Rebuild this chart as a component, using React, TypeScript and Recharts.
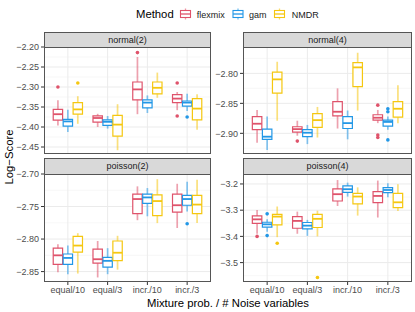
import React from 'react';
import {
  ComposedChart,
  XAxis,
  YAxis,
  CartesianGrid,
  ReferenceArea,
  ReferenceLine,
  ReferenceDot,
} from 'recharts';

const FONT = '"Liberation Sans", Arial, Helvetica, sans-serif';

const categories = ['equal/10', 'equal/3', 'incr./10', 'incr./3'];
const methods = ['flexmix', 'gam', 'NMDR'];
const methodColors = ['#DF536B', '#2297E6', '#F5C710'];
const dodgeOffsets = [-0.25, 0, 0.25];
const panelNames = ['normal(2)', 'normal(4)', 'poisson(2)', 'poisson(4)'];

// box stats per category: [lower whisker, q1, median, q3, upper whisker]
const normal2Flexmix = [
  [-2.396, -2.383, -2.368, -2.356, -2.333],
  [-2.4, -2.388, -2.3775, -2.372, -2.367],
  [-2.368, -2.332, -2.306, -2.2875, -2.225],
  [-2.358, -2.339, -2.329, -2.319, -2.3125],
];
const normal2Gam = [
  [-2.4125, -2.398, -2.386, -2.381, -2.357],
  [-2.404, -2.396, -2.387, -2.382, -2.3725],
  [-2.365, -2.352, -2.339, -2.332, -2.321],
  [-2.36, -2.348, -2.339, -2.335, -2.317],
];
const normal2Nmdr = [
  [-2.392, -2.368, -2.356, -2.339, -2.323],
  [-2.458, -2.423, -2.394, -2.371, -2.343],
  [-2.327, -2.317, -2.302, -2.2875, -2.264],
  [-2.407, -2.382, -2.354, -2.329, -2.318],
];
const normal2FlexmixOut = [[-2.3], [], [-2.214], [-2.29, -2.3725]];
const normal2GamOut = [[], [], [], [-2.375]];
const normal2NmdrOut = [[-2.29], [], [], []];

const normal4Flexmix = [
  [-2.9156, -2.894, -2.884, -2.872, -2.861],
  [-2.904, -2.898, -2.893, -2.889, -2.879],
  [-2.892, -2.871, -2.864, -2.847, -2.825],
  [-2.883, -2.878, -2.874, -2.869, -2.861],
];
const normal4Gam = [
  [-2.928, -2.91, -2.9056, -2.893, -2.872],
  [-2.918, -2.9056, -2.899, -2.894, -2.886],
  [-2.91, -2.892, -2.883, -2.872, -2.862],
  [-2.894, -2.888, -2.881, -2.878, -2.872],
];
const normal4Nmdr = [
  [-2.879, -2.833, -2.81, -2.798, -2.7806],
  [-2.907, -2.89, -2.878, -2.867, -2.856],
  [-2.862, -2.822, -2.79, -2.782, -2.7656],
  [-2.883, -2.873, -2.859, -2.847, -2.82],
];
const normal4FlexmixOut = [[], [-2.913], [], [-2.853, -2.903, -2.907]];
const normal4GamOut = [[], [], [], [-2.859, -2.864, -2.911]];
const normal4NmdrOut = [[], [], [], []];

const poisson2Flexmix = [
  [-2.851, -2.839, -2.825, -2.814, -2.808],
  [-2.859, -2.837, -2.831, -2.8156, -2.803],
  [-2.771, -2.761, -2.7385, -2.731, -2.719],
  [-2.783, -2.7586, -2.748, -2.731, -2.715],
];
const poisson2Gam = [
  [-2.854, -2.839, -2.829, -2.823, -2.81],
  [-2.854, -2.843, -2.8335, -2.828, -2.814],
  [-2.765, -2.745, -2.736, -2.731, -2.7216],
  [-2.7575, -2.748, -2.7385, -2.733, -2.712],
];
const poisson2Nmdr = [
  [-2.853, -2.82, -2.81, -2.796, -2.791],
  [-2.847, -2.833, -2.821, -2.803, -2.795],
  [-2.7755, -2.764, -2.7416, -2.732, -2.708],
  [-2.7755, -2.761, -2.747, -2.733, -2.709],
];
const poisson2FlexmixOut = [[], [], [], []];
const poisson2GamOut = [[], [], [], [-2.7765]];
const poisson2NmdrOut = [[], [], [], []];

const poisson4Flexmix = [
  [-3.39, -3.35, -3.335, -3.322, -3.299],
  [-3.39, -3.369, -3.341, -3.3245, -3.3055],
  [-3.284, -3.265, -3.239, -3.219, -3.185],
  [-3.328, -3.271, -3.2457, -3.229, -3.187],
];
const poisson4Gam = [
  [-3.382, -3.365, -3.354, -3.346, -3.335],
  [-3.398, -3.3715, -3.359, -3.347, -3.337],
  [-3.248, -3.232, -3.22, -3.2076, -3.195],
  [-3.251, -3.233, -3.223, -3.214, -3.1975],
];
const poisson4Nmdr = [
  [-3.403, -3.356, -3.3245, -3.316, -3.286],
  [-3.4, -3.366, -3.333, -3.316, -3.302],
  [-3.3207, -3.276, -3.248, -3.2356, -3.213],
  [-3.303, -3.29, -3.27, -3.2356, -3.201],
];
const poisson4FlexmixOut = [[-3.4], [], [], []];
const poisson4GamOut = [[-3.314, -3.397], [], [], []];
const poisson4NmdrOut = [[-3.426], [-3.557], [], []];

// axes
const normal2Domain = [-2.4675, -2.2];
const normal2Ticks = [-2.45, -2.4, -2.35, -2.3, -2.25, -2.2];
const normal2Minor = [-2.425, -2.375, -2.325, -2.275, -2.225];
const normal4Domain = [-2.9345, -2.756];
const normal4Ticks = [-2.9, -2.85, -2.8];
const normal4Minor = [-2.925, -2.875, -2.825, -2.775];
const poisson2Domain = [-2.866, -2.7];
const poisson2Ticks = [-2.85, -2.8, -2.75, -2.7];
const poisson2Minor = [-2.825, -2.775, -2.725];
const poisson4Domain = [-3.574, -3.162];
const poisson4Ticks = [-3.5, -3.4, -3.3, -3.2];
const poisson4Minor = [-3.55, -3.45, -3.35, -3.25];
const xTicks = [1, 2, 3, 4];

const HW = 0.118;

function fmt(digits: number) {
  return (v: number) => (v < 0 ? '\u2212' : '') + Math.abs(v).toFixed(digits);
}

function boxElements(stats: number[][][], outs: number[][][], prefix: string) {
  const els: React.ReactNode[] = [];
  stats.forEach((methodStats, m) => {
    const col = methodColors[m];
    methodStats.forEach((s, c) => {
      const cx = c + 1 + dodgeOffsets[m];
      const [lo, q1, med, q3, hi] = s;
      const k = `${prefix}-${m}-${c}`;
      els.push(
        <ReferenceLine
          key={k + 'wu'}
          segment={[{ x: cx, y: q3 }, { x: cx, y: hi }]}
          stroke={col}
          strokeOpacity={0.55}
          strokeWidth={1.7}
          ifOverflow="visible"
        />
      );
      els.push(
        <ReferenceLine
          key={k + 'wl'}
          segment={[{ x: cx, y: lo }, { x: cx, y: q1 }]}
          stroke={col}
          strokeOpacity={0.55}
          strokeWidth={1.7}
          ifOverflow="visible"
        />
      );
      els.push(
        <ReferenceArea
          key={k + 'box'}
          x1={cx - HW}
          x2={cx + HW}
          y1={q1}
          y2={q3}
          fill="#ffffff"
          fillOpacity={1}
          stroke={col}
          strokeWidth={1.2}
          ifOverflow="visible"
        />
      );
      els.push(
        <ReferenceLine
          key={k + 'med'}
          segment={[{ x: cx - HW, y: med }, { x: cx + HW, y: med }]}
          stroke={col}
          strokeWidth={1.8}
          ifOverflow="visible"
        />
      );
      outs[m][c].forEach((o, j) => {
        els.push(
          <ReferenceDot
            key={k + 'o' + j}
            x={cx}
            y={o}
            r={1.8}
            fill={col}
            stroke="none"
            ifOverflow="visible"
          />
        );
      });
    });
  });
  return els;
}

type PanelProps = {
  name: string;
  plotLeft: number;
  plotTop: number;
  plotWidth: number;
  plotHeight: number;
  domain: number[];
  ticks: number[];
  minor: number[];
  digits: number;
  showX: boolean;
  stats: number[][][];
  outs: number[][][];
  stripTop: number;
};

const chartData = categories.map((c, i) => ({ pos: i + 1, cat: c }));

function Panel(p: PanelProps) {
  const yw = 44;
  const padTop = 6;
  const xh = p.showX ? 22 : 0;
  const padBottom = p.showX ? 0 : 6;
  const width = p.plotWidth + yw + 1;
  const height = padTop + p.plotHeight + xh + padBottom;
  return (
    <>
      <div style={{ position: 'absolute', left: p.plotLeft - yw, top: p.plotTop - padTop }}>
        <ComposedChart
          width={width}
          height={height}
          data={chartData}
          margin={{ top: padTop, right: 1, bottom: padBottom, left: 0 }}
          style={{ fontFamily: FONT }}
        >
          <CartesianGrid
            horizontalValues={p.minor}
            vertical={false}
            stroke="#f3f3f3"
            strokeWidth={0.7}
          />
          <CartesianGrid
            horizontalValues={p.ticks}
            verticalValues={xTicks}
            stroke="#ebebeb"
            strokeWidth={1}
          />
          <XAxis
            type="number"
            dataKey="pos"
            domain={[0.4, 4.6]}
            ticks={xTicks}
            interval={0}
            allowDataOverflow
            hide={!p.showX}
            height={xh}
            tickFormatter={(v: number) => categories[v - 1]}
            tickSize={3}
            tickMargin={2}
            axisLine={false}
            tickLine={{ stroke: '#333333' }}
            tick={{ fontSize: 9, fill: '#4d4d4d', fontFamily: FONT }}
          />
          <YAxis
            type="number"
            domain={p.domain}
            ticks={p.ticks}
            interval={0}
            allowDataOverflow
            width={yw}
            tickFormatter={fmt(p.digits)}
            tickSize={3}
            tickMargin={2}
            axisLine={false}
            tickLine={{ stroke: '#333333' }}
            tick={{ fontSize: 9, fill: '#4d4d4d', fontFamily: FONT }}
          />
          {boxElements(p.stats, p.outs, p.name)}
        </ComposedChart>
      </div>
      <div
        style={{
          position: 'absolute',
          left: p.plotLeft,
          top: p.plotTop,
          width: p.plotWidth,
          height: p.plotHeight,
          border: '1px solid #555555',
          boxSizing: 'border-box',
          pointerEvents: 'none',
        }}
      />
      <div
        style={{
          position: 'absolute',
          left: p.plotLeft,
          top: p.stripTop,
          width: p.plotWidth,
          height: p.plotTop - p.stripTop + 1,
          background: '#d9d9d9',
          border: '1px solid #555555',
          boxSizing: 'border-box',
          fontFamily: FONT,
          fontSize: 9,
          color: '#1a1a1a',
          display: 'flex',
          alignItems: 'center',
          justifyContent: 'center',
          lineHeight: 1,
        }}
      >
        {p.name}
      </div>
    </>
  );
}

const legendKeyX = [185.5, 238, 279.5];
const legendTextX = [196.7, 249, 291.7];

export default function App() {
  return (
    <div
      style={{
        position: 'absolute',
        left: 0,
        top: 0,
        width: 415,
        height: 312,
        background: '#ffffff',
        overflow: 'hidden',
        fontFamily: FONT,
      }}
    >
      <svg
        width={415}
        height={312}
        style={{ position: 'absolute', left: 0, top: 0 }}
        fontFamily={FONT}
      >
        <text x={136} y={18} fontSize={11.3} fill="#000">
          Method
        </text>
        {methods.map((m, i) => {
          const cx = legendKeyX[i];
          const col = methodColors[i];
          return (
            <g key={m}>
              <line x1={cx} x2={cx} y1={8.5} y2={10.5} stroke={col} strokeOpacity={0.6} strokeWidth={1.3} />
              <line x1={cx} x2={cx} y1={17.5} y2={19.5} stroke={col} strokeOpacity={0.6} strokeWidth={1.3} />
              <rect x={cx - 5} y={10.5} width={10} height={7} fill="#fff" stroke={col} strokeWidth={1.1} />
              <line x1={cx - 5} x2={cx + 5} y1={14} y2={14} stroke={col} strokeWidth={1.3} />
              <text x={legendTextX[i]} y={17.5} fontSize={9} fill="#1a1a1a">
                {m}
              </text>
            </g>
          );
        })}
        <text x={228} y={306.5} fontSize={11.3} textAnchor="middle" fill="#000">
          Mixture prob. / # Noise variables
        </text>
        <text
          x={0}
          y={0}
          fontSize={11.3}
          textAnchor="middle"
          fill="#000"
          transform="translate(12.5,157) rotate(-90)"
        >
          Log{'\u2212'}Score
        </text>
      </svg>
      <Panel
        name={panelNames[0]}
        plotLeft={44}
        plotTop={47}
        plotWidth={167}
        plotHeight={107}
        stripTop={32}
        domain={normal2Domain}
        ticks={normal2Ticks}
        minor={normal2Minor}
        digits={2}
        showX={false}
        stats={[normal2Flexmix, normal2Gam, normal2Nmdr]}
        outs={[normal2FlexmixOut, normal2GamOut, normal2NmdrOut]}
      />
      <Panel
        name={panelNames[1]}
        plotLeft={243}
        plotTop={47}
        plotWidth={169}
        plotHeight={107}
        stripTop={32}
        domain={normal4Domain}
        ticks={normal4Ticks}
        minor={normal4Minor}
        digits={2}
        showX={false}
        stats={[normal4Flexmix, normal4Gam, normal4Nmdr]}
        outs={[normal4FlexmixOut, normal4GamOut, normal4NmdrOut]}
      />
      <Panel
        name={panelNames[2]}
        plotLeft={44}
        plotTop={174}
        plotWidth={167}
        plotHeight={108}
        stripTop={158}
        domain={poisson2Domain}
        ticks={poisson2Ticks}
        minor={poisson2Minor}
        digits={2}
        showX={true}
        stats={[poisson2Flexmix, poisson2Gam, poisson2Nmdr]}
        outs={[poisson2FlexmixOut, poisson2GamOut, poisson2NmdrOut]}
      />
      <Panel
        name={panelNames[3]}
        plotLeft={243}
        plotTop={174}
        plotWidth={169}
        plotHeight={108}
        stripTop={158}
        domain={poisson4Domain}
        ticks={poisson4Ticks}
        minor={poisson4Minor}
        digits={1}
        showX={true}
        stats={[poisson4Flexmix, poisson4Gam, poisson4Nmdr]}
        outs={[poisson4FlexmixOut, poisson4GamOut, poisson4NmdrOut]}
      />
    </div>
  );
}
